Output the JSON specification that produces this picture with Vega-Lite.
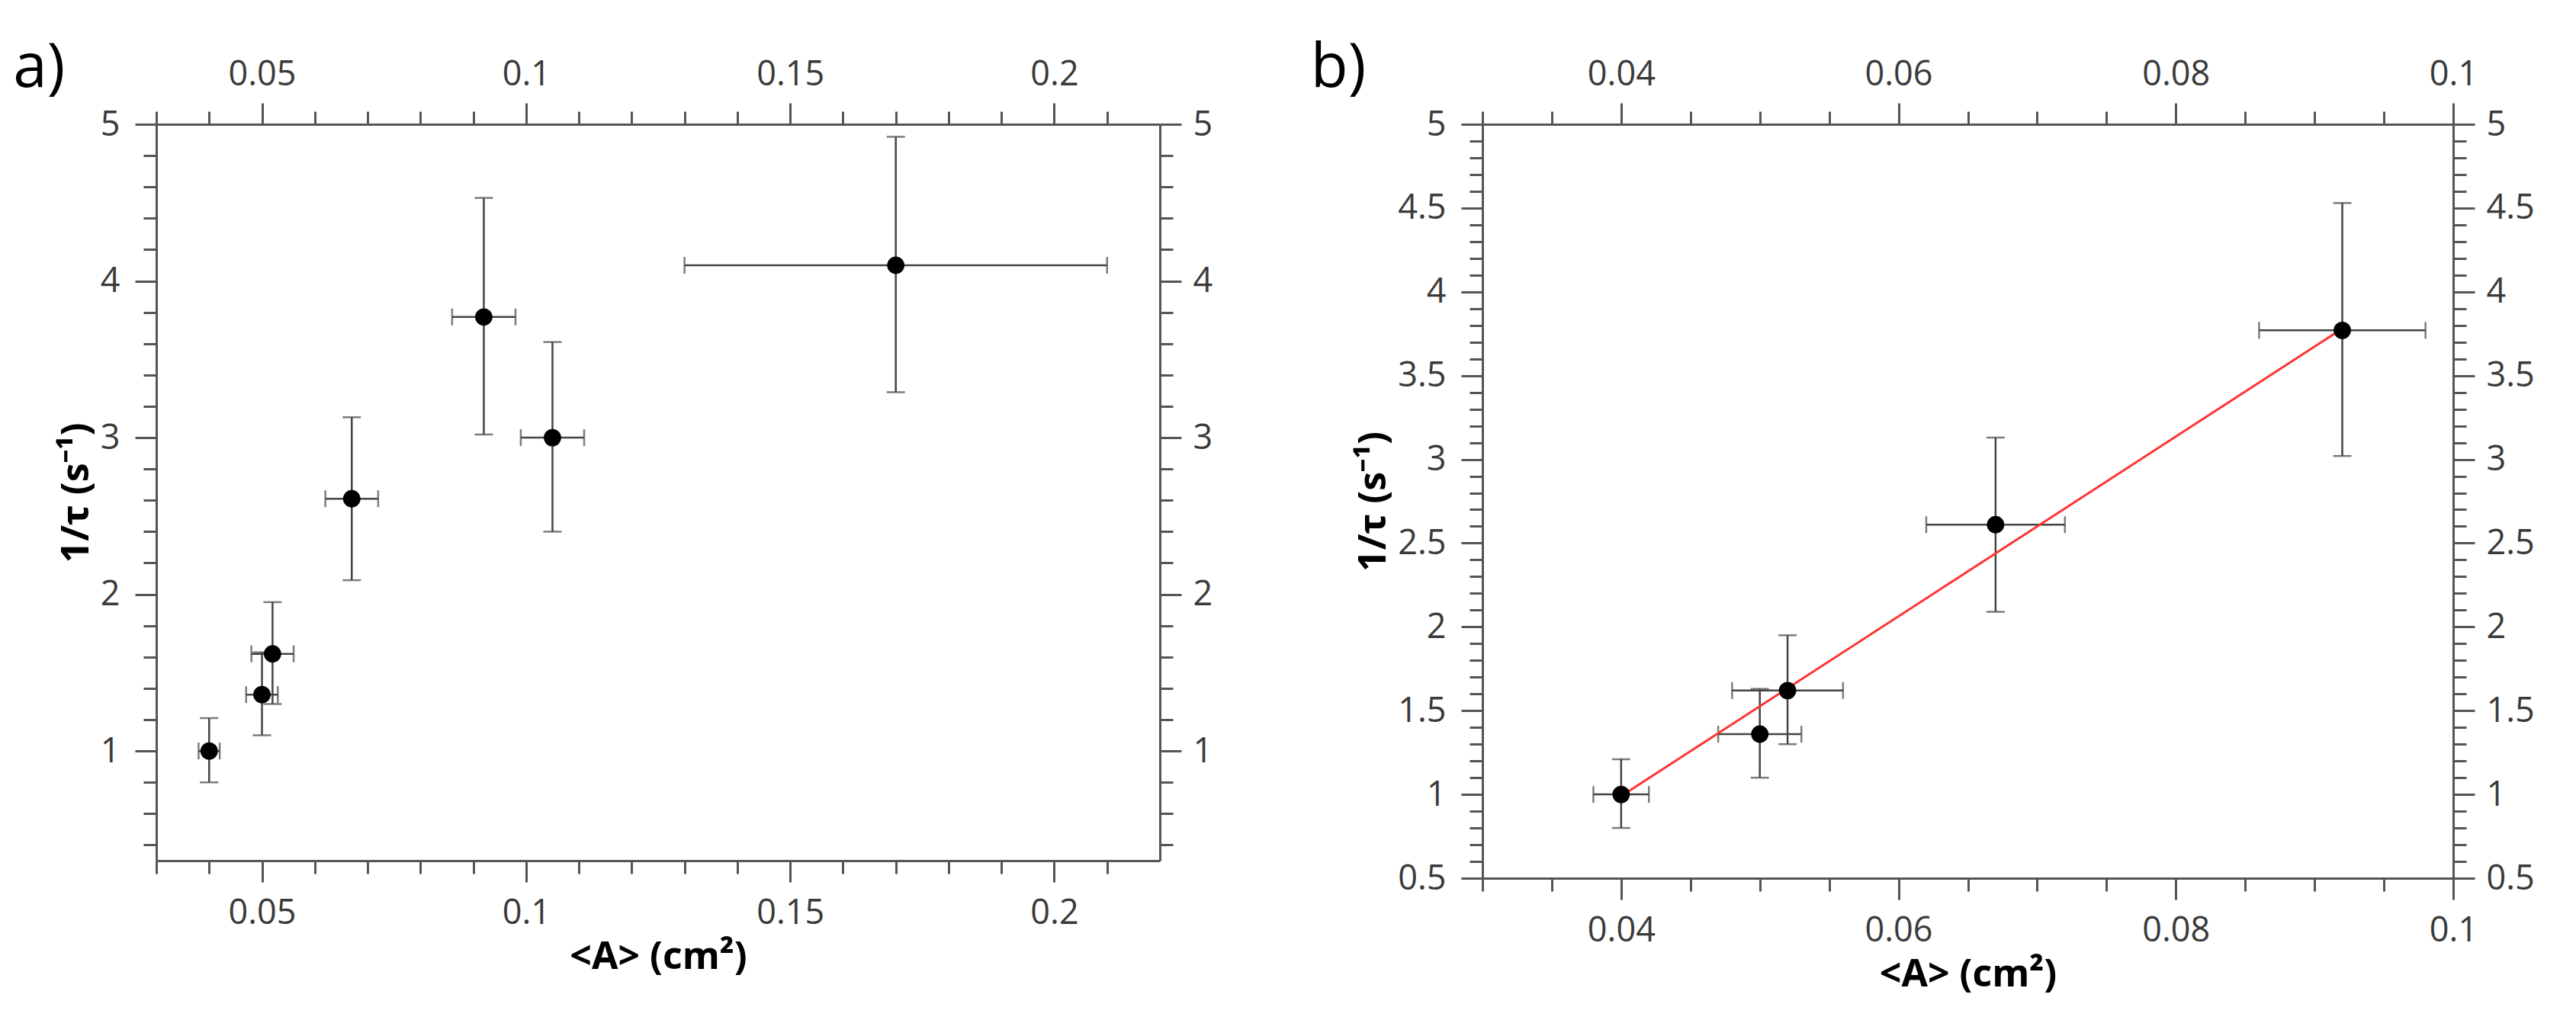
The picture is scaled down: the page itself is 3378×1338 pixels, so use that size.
{
  "$schema": "https://vega.github.io/schema/vega-lite/v6.json",
  "background": "white",
  "padding": {"left": 17, "top": 50, "right": 10, "bottom": 10},
  "bounds": "flush",
  "spacing": 423,
  "datasets": {
    "pts": [
      {"A": 0.040, "Alo": 0.038, "Ahi": 0.042, "r": 1.00, "rlo": 0.80, "rhi": 1.21},
      {"A": 0.050, "Alo": 0.047, "Ahi": 0.053, "r": 1.36, "rlo": 1.10, "rhi": 1.63},
      {"A": 0.052, "Alo": 0.048, "Ahi": 0.056, "r": 1.62, "rlo": 1.30, "rhi": 1.95},
      {"A": 0.067, "Alo": 0.062, "Ahi": 0.072, "r": 2.61, "rlo": 2.09, "rhi": 3.13},
      {"A": 0.092, "Alo": 0.086, "Ahi": 0.098, "r": 3.77, "rlo": 3.02, "rhi": 4.53},
      {"A": 0.105, "Alo": 0.099, "Ahi": 0.111, "r": 3.00, "rlo": 2.40, "rhi": 3.61},
      {"A": 0.170, "Alo": 0.130, "Ahi": 0.210, "r": 4.10, "rlo": 3.29, "rhi": 4.92}
    ],
    "fit": [
      {"A": 0.040, "r": 0.99},
      {"A": 0.092, "r": 3.78}
    ]
  },
  "config": {
    "view": {"stroke": null},
    "axis": {
      "grid": false,
      "domainColor": "#555555",
      "domainWidth": 3,
      "tickColor": "#555555",
      "tickWidth": 3,
      "labelFont": "Open Sans",
      "labelFontSize": 45,
      "labelColor": "#3a3a3a",
      "labelFlush": false,
      "labelOverlap": false,
      "titleFont": "Open Sans",
      "titleFontSize": 50,
      "titleFontWeight": "bold",
      "titleColor": "#000000"
    },
    "title": {
      "font": "Open Sans",
      "fontSize": 80,
      "fontWeight": "normal",
      "color": "#000000",
      "anchor": "start",
      "frame": "bounds",
      "baseline": "alphabetic",
      "offset": 0
    }
  },
  "hconcat": [
    {
      "width": 1316,
      "height": 966,
      "title": {"text": "a)", "dx": -58, "dy": 60},
      "data": {"name": "pts"},
      "resolve": {"axis": {"x": "independent", "y": "independent"}},
      "layer": [
        {
          "mark": {"type": "rule", "color": "#444444", "strokeWidth": 2.5},
          "encoding": {
            "x": {"field": "A", "type": "quantitative", "scale": {"domain": [0.03, 0.22], "nice": false, "zero": false},
                  "axis": {"orient": "bottom", "values": [0.03, 0.04, 0.06, 0.07, 0.08, 0.09, 0.11, 0.12, 0.13, 0.14, 0.16, 0.17, 0.18, 0.19, 0.21], "labels": false, "domain": false, "tickSize": 17, "title": null}},
            "y": {"field": "rlo", "type": "quantitative", "scale": {"domain": [0.3, 5], "nice": false, "zero": false},
                  "axis": {"orient": "left", "values": [0.4, 0.6, 0.8, 1.2, 1.4, 1.6, 1.8, 2.2, 2.4, 2.6, 2.8, 3.2, 3.4, 3.6, 3.8, 4.2, 4.4, 4.6, 4.8], "labels": false, "domain": false, "tickSize": 17, "title": null}},
            "y2": {"field": "rhi"}
          }
        },
        {
          "mark": {"type": "rule", "color": "#444444", "strokeWidth": 2.5},
          "encoding": {
            "x": {"field": "Alo", "type": "quantitative", "scale": {"domain": [0.03, 0.22], "nice": false, "zero": false},
                  "axis": {"orient": "top", "values": [0.03, 0.04, 0.06, 0.07, 0.08, 0.09, 0.11, 0.12, 0.13, 0.14, 0.16, 0.17, 0.18, 0.19, 0.21], "labels": false, "domain": false, "tickSize": 17, "title": null}},
            "x2": {"field": "Ahi"},
            "y": {"field": "r", "type": "quantitative", "scale": {"domain": [0.3, 5], "nice": false, "zero": false},
                  "axis": {"orient": "right", "values": [0.4, 0.6, 0.8, 1.2, 1.4, 1.6, 1.8, 2.2, 2.4, 2.6, 2.8, 3.2, 3.4, 3.6, 3.8, 4.2, 4.4, 4.6, 4.8], "labels": false, "domain": false, "tickSize": 17, "title": null}}
          }
        },
        {
          "mark": {"type": "tick", "orient": "horizontal", "color": "#444444", "size": 24, "thickness": 2.5},
          "encoding": {
            "x": {"field": "A", "type": "quantitative", "scale": {"domain": [0.03, 0.22], "nice": false, "zero": false},
                  "axis": {"orient": "top", "values": [0.05, 0.1, 0.15, 0.2], "format": "~g", "tickSize": 28, "labelPadding": 15, "title": null}},
            "y": {"field": "rlo", "type": "quantitative", "scale": {"domain": [0.3, 5], "nice": false, "zero": false},
                  "axis": {"orient": "right", "values": [1, 2, 3, 4, 5], "format": "~g", "tickSize": 28, "labelPadding": 15, "title": null}}
          }
        },
        {
          "mark": {"type": "tick", "orient": "horizontal", "color": "#444444", "size": 24, "thickness": 2.5},
          "encoding": {
            "x": {"field": "A", "type": "quantitative", "scale": {"domain": [0.03, 0.22], "nice": false, "zero": false}, "axis": null},
            "y": {"field": "rhi", "type": "quantitative", "scale": {"domain": [0.3, 5], "nice": false, "zero": false}, "axis": null}
          }
        },
        {
          "mark": {"type": "tick", "orient": "vertical", "color": "#444444", "size": 22, "thickness": 2.5},
          "encoding": {
            "x": {"field": "Alo", "type": "quantitative", "scale": {"domain": [0.03, 0.22], "nice": false, "zero": false}, "axis": null},
            "y": {"field": "r", "type": "quantitative", "scale": {"domain": [0.3, 5], "nice": false, "zero": false}, "axis": null}
          }
        },
        {
          "mark": {"type": "tick", "orient": "vertical", "color": "#444444", "size": 22, "thickness": 2.5},
          "encoding": {
            "x": {"field": "Ahi", "type": "quantitative", "scale": {"domain": [0.03, 0.22], "nice": false, "zero": false}, "axis": null},
            "y": {"field": "r", "type": "quantitative", "scale": {"domain": [0.3, 5], "nice": false, "zero": false}, "axis": null}
          }
        },
        {
          "mark": {"type": "circle", "color": "#000000", "size": 520, "opacity": 1},
          "encoding": {
            "x": {"field": "A", "type": "quantitative", "scale": {"domain": [0.03, 0.22], "nice": false, "zero": false},
                  "axis": {"orient": "bottom", "values": [0.05, 0.1, 0.15, 0.2], "format": "~g", "tickSize": 28, "labelPadding": 18, "title": "<A> (cm²)", "titlePadding": 10}},
            "y": {"field": "r", "type": "quantitative", "scale": {"domain": [0.3, 5], "nice": false, "zero": false},
                  "axis": {"orient": "left", "values": [1, 2, 3, 4, 5], "format": "~g", "tickSize": 28, "labelPadding": 20, "title": "1/τ (s⁻¹)", "titlePadding": 6}}
          }
        }
      ]
    },
    {
      "width": 1273,
      "height": 989,
      "title": {"text": "b)", "dx": -58, "dy": 60},
      "data": {"name": "pts"},
      "transform": [{"filter": "datum.A < 0.1"}],
      "resolve": {"axis": {"x": "independent", "y": "independent"}},
      "layer": [
        {
          "mark": {"type": "rule", "color": "#444444", "strokeWidth": 2.5},
          "encoding": {
            "x": {"field": "A", "type": "quantitative", "scale": {"domain": [0.03, 0.1], "nice": false, "zero": false},
                  "axis": {"orient": "bottom", "values": [0.03, 0.035, 0.045, 0.05, 0.055, 0.065, 0.07, 0.075, 0.085, 0.09, 0.095], "labels": false, "domain": false, "tickSize": 17, "title": null}},
            "y": {"field": "rlo", "type": "quantitative", "scale": {"domain": [0.5, 5], "nice": false, "zero": false},
                  "axis": {"orient": "left", "values": [0.6, 0.7, 0.8, 0.9, 1.1, 1.2, 1.3, 1.4, 1.6, 1.7, 1.8, 1.9, 2.1, 2.2, 2.3, 2.4, 2.6, 2.7, 2.8, 2.9, 3.1, 3.2, 3.3, 3.4, 3.6, 3.7, 3.8, 3.9, 4.1, 4.2, 4.3, 4.4, 4.6, 4.7, 4.8, 4.9], "labels": false, "domain": false, "tickSize": 17, "title": null}},
            "y2": {"field": "rhi"}
          }
        },
        {
          "mark": {"type": "rule", "color": "#444444", "strokeWidth": 2.5},
          "encoding": {
            "x": {"field": "Alo", "type": "quantitative", "scale": {"domain": [0.03, 0.1], "nice": false, "zero": false},
                  "axis": {"orient": "top", "values": [0.03, 0.035, 0.045, 0.05, 0.055, 0.065, 0.07, 0.075, 0.085, 0.09, 0.095], "labels": false, "domain": false, "tickSize": 17, "title": null}},
            "x2": {"field": "Ahi"},
            "y": {"field": "r", "type": "quantitative", "scale": {"domain": [0.5, 5], "nice": false, "zero": false},
                  "axis": {"orient": "right", "values": [0.6, 0.7, 0.8, 0.9, 1.1, 1.2, 1.3, 1.4, 1.6, 1.7, 1.8, 1.9, 2.1, 2.2, 2.3, 2.4, 2.6, 2.7, 2.8, 2.9, 3.1, 3.2, 3.3, 3.4, 3.6, 3.7, 3.8, 3.9, 4.1, 4.2, 4.3, 4.4, 4.6, 4.7, 4.8, 4.9], "labels": false, "domain": false, "tickSize": 17, "title": null}}
          }
        },
        {
          "mark": {"type": "tick", "orient": "horizontal", "color": "#444444", "size": 24, "thickness": 2.5},
          "encoding": {
            "x": {"field": "A", "type": "quantitative", "scale": {"domain": [0.03, 0.1], "nice": false, "zero": false},
                  "axis": {"orient": "top", "values": [0.04, 0.06, 0.08, 0.1], "format": "~g", "tickSize": 28, "labelPadding": 15, "title": null}},
            "y": {"field": "rlo", "type": "quantitative", "scale": {"domain": [0.5, 5], "nice": false, "zero": false},
                  "axis": {"orient": "right", "values": [0.5, 1, 1.5, 2, 2.5, 3, 3.5, 4, 4.5, 5], "format": "~g", "tickSize": 28, "labelPadding": 15, "title": null}}
          }
        },
        {
          "mark": {"type": "tick", "orient": "horizontal", "color": "#444444", "size": 24, "thickness": 2.5},
          "encoding": {
            "x": {"field": "A", "type": "quantitative", "scale": {"domain": [0.03, 0.1], "nice": false, "zero": false}, "axis": null},
            "y": {"field": "rhi", "type": "quantitative", "scale": {"domain": [0.5, 5], "nice": false, "zero": false}, "axis": null}
          }
        },
        {
          "mark": {"type": "tick", "orient": "vertical", "color": "#444444", "size": 22, "thickness": 2.5},
          "encoding": {
            "x": {"field": "Alo", "type": "quantitative", "scale": {"domain": [0.03, 0.1], "nice": false, "zero": false}, "axis": null},
            "y": {"field": "r", "type": "quantitative", "scale": {"domain": [0.5, 5], "nice": false, "zero": false}, "axis": null}
          }
        },
        {
          "mark": {"type": "tick", "orient": "vertical", "color": "#444444", "size": 22, "thickness": 2.5},
          "encoding": {
            "x": {"field": "Ahi", "type": "quantitative", "scale": {"domain": [0.03, 0.1], "nice": false, "zero": false}, "axis": null},
            "y": {"field": "r", "type": "quantitative", "scale": {"domain": [0.5, 5], "nice": false, "zero": false}, "axis": null}
          }
        },
        {
          "data": {"name": "fit"},
          "mark": {"type": "line", "color": "#ff3333", "strokeWidth": 3},
          "encoding": {
            "x": {"field": "A", "type": "quantitative", "scale": {"domain": [0.03, 0.1], "nice": false, "zero": false}, "axis": null},
            "y": {"field": "r", "type": "quantitative", "scale": {"domain": [0.5, 5], "nice": false, "zero": false}, "axis": null}
          }
        },
        {
          "mark": {"type": "circle", "color": "#000000", "size": 520, "opacity": 1},
          "encoding": {
            "x": {"field": "A", "type": "quantitative", "scale": {"domain": [0.03, 0.1], "nice": false, "zero": false},
                  "axis": {"orient": "bottom", "values": [0.04, 0.06, 0.08, 0.1], "format": "~g", "tickSize": 28, "labelPadding": 18, "title": "<A> (cm²)", "titlePadding": 10}},
            "y": {"field": "r", "type": "quantitative", "scale": {"domain": [0.5, 5], "nice": false, "zero": false},
                  "axis": {"orient": "left", "values": [0.5, 1, 1.5, 2, 2.5, 3, 3.5, 4, 4.5, 5], "format": "~g", "tickSize": 28, "labelPadding": 20, "title": "1/τ (s⁻¹)", "titlePadding": 6}}
          }
        }
      ]
    }
  ]
}
